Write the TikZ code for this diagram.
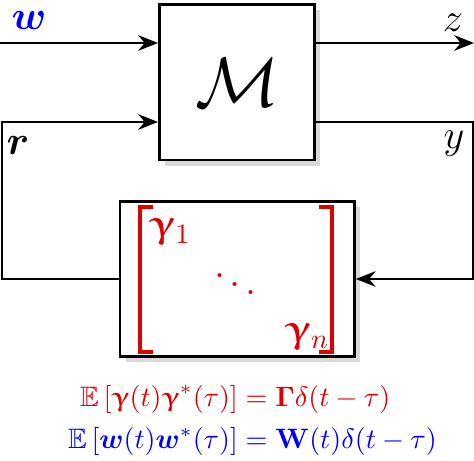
\documentclass[tikz,border=0pt]{standalone}
\usepackage{amsmath}
\usepackage{amssymb}
\usepackage{tikz}
\usetikzlibrary{arrows.meta,positioning,calc,shadows}
\definecolor{NoiseRed}{HTML}{DD0000}
\definecolor{NoiseBlue}{HTML}{0000FF}
\DeclareSymbolFont{eulerbold}{U}{eur}{b}{n}
\DeclareMathSymbol{\bgam}{\mathord}{eulerbold}{"0D}

\begin{document}
\begin{tikzpicture}[
    block/.style={
      draw=black,
      fill=white,
      line width=1pt,
      minimum width=#1,
      minimum height=1.94cm,
      drop shadow={shadow xshift=2pt,shadow yshift=-2pt,opacity=0.3}
    },
    signal/.style={
      font=\Large
    },
    arrow/.style={
      -{Stealth[length=7pt,width=5.5pt]},
      line width=1pt
    },
    bracket/.style={
      draw=NoiseRed,
      line width=1.1pt
    }
  ]
  \useasboundingbox (0,0) rectangle (5.925,5.75);

  \node[block=1.94cm] (plant) at (2.9625,4.72)  {\Huge$\mathcal{M}$};
  \node[block=2.93cm] (unc)   at (2.965,2.2625) {};

  % uncertainty matrix
  \draw[bracket] (1.91,3.1625) -- (1.75,3.1625) -- (1.75,1.35) -- (1.91,1.35);
  \draw[bracket] (3.99,3.1625) -- (4.15,3.1625) -- (4.15,1.35) -- (3.99,1.35);
  \node[text=NoiseRed,font=\Large] (g1)    at (2.125,2.86)  {$\bgam_1$};
  \node[text=NoiseRed,font=\Large] (gdots) at (2.94,2.3)    {$\ddots$};
  \node[text=NoiseRed,font=\Large] (gn)    at (3.84,1.54)   {$\bgam_n$};

  \coordinate (win)  at (0,5.2125);
  \coordinate (zout) at (5.925,5.2125);
  \coordinate (lft)  at (0.025,4.225);
  \coordinate (rgt)  at (5.9125,4.225);

  \draw[arrow] (win) -- (win -| plant.west);
  \draw[arrow] (zout -| plant.east) -- (zout);
  \draw[arrow] (unc.west) -| (lft) -- (lft -| plant.west);
  \draw[arrow] (rgt -| plant.east) -- (rgt) |- (unc.east);

  \node[signal,text=NoiseBlue] (wlab) at (0.3625,5.4875) {$\boldsymbol{w}$};
  \node[signal] (zlab) at (5.6625,5.4625) {$z$};
  \node[signal] (rlab) at (0.225,3.925)   {$\boldsymbol{r}$};
  \node[signal] (ylab) at (5.675,3.95)    {$y$};

  \node (stats) at (3.156,0.49) {$\begin{aligned}
      \color{NoiseRed}\mathbb{E}\left[\bgam(t)\bgam^*(\tau)\right] &\color{NoiseRed}= \boldsymbol{\Gamma}\delta(t-\tau)\\
      \color{NoiseBlue}\mathbb{E}\left[\boldsymbol{w}(t)\boldsymbol{w}^*(\tau)\right] &\color{NoiseBlue}= \mathbf{W}(t)\delta(t-\tau)
    \end{aligned}$};

\end{tikzpicture}
\end{document}
